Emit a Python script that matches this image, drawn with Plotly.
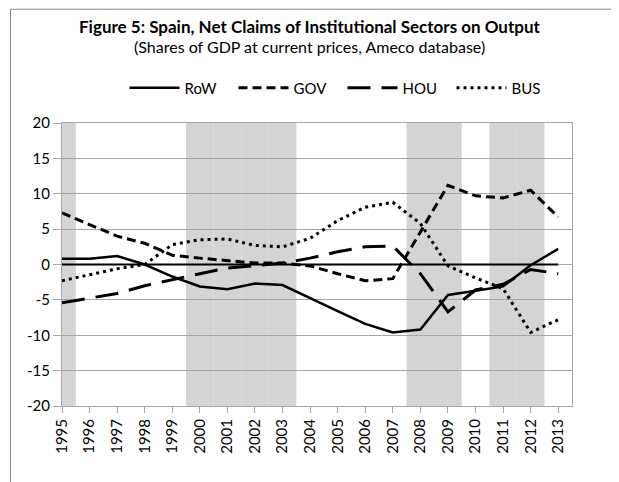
import plotly.graph_objects as go

years = list(range(1995, 2014))
row = [0.8, 0.8, 1.2, 0.0, -1.7, -3.1, -3.5, -2.7, -2.9, -4.8, -6.6, -8.4, -9.6, -9.2, -4.3, -3.7, -3.1, -0.1, 2.2]
gov = [7.3, 5.6, 4.0, 3.0, 1.3, 0.9, 0.5, 0.2, 0.2, -0.2, -1.3, -2.3, -2.0, 4.6, 11.2, 9.7, 9.4, 10.5, 6.7]
hou = [-5.4, -4.8, -4.1, -3.0, -2.1, -1.3, -0.5, -0.2, 0.2, 0.9, 1.8, 2.5, 2.6, -1.3, -6.7, -3.6, -2.8, -0.7, -1.3]
bus = [-2.3, -1.4, -0.6, 0.0, 2.8, 3.5, 3.6, 2.7, 2.5, 3.7, 6.2, 8.1, 8.8, 5.8, -0.2, -1.9, -3.4, -9.6, -7.8]
zero = [0] * len(years)
y_ticks = [-20, -15, -10, -5, 0, 5, 10, 15, 20]

# grey background columns
shaded_years = [1995, 2000, 2001, 2002, 2003, 2008, 2009, 2011, 2012]

FONT = "Lato"
GRID = "#a6a6a6"

fig = go.Figure()

for yr in shaded_years:
    fig.add_shape(type="rect", xref="x", yref="y", x0=yr - 0.5, x1=yr + 0.5, y0=-20, y1=20,
                  fillcolor="#d4d4d4", line_width=0, layer="below")

fig.add_trace(go.Scatter(x=years, y=zero, mode="lines", showlegend=False, hoverinfo="skip",
                         line=dict(color="black", width=2)))
fig.add_trace(go.Scatter(x=years, y=row, name="RoW", mode="lines", line=dict(color="black", width=2.5)))
fig.add_trace(go.Scatter(x=years, y=gov, name="GOV", mode="lines",
                         line=dict(color="black", width=3, dash="9px,5px")))
fig.add_trace(go.Scatter(x=years, y=hou, name="HOU", mode="lines",
                         line=dict(color="black", width=3, dash="23px,11px")))
fig.add_trace(go.Scatter(x=years, y=bus, name="BUS", mode="lines",
                         line=dict(color="black", width=3, dash="3px,4px")))

# outer chart border
fig.add_shape(type="rect", xref="paper", yref="paper", x0=-0.101, x1=1.3, y0=-0.4, y1=1.402,
              line=dict(color="#868686", width=1), fillcolor="rgba(0,0,0,0)")

fig.add_annotation(text="<b>Figure 5: Spain, Net Claims of Institutional Sectors on Output</b>",
                   xref="paper", yref="paper", x=0.486, y=1.34, yanchor="middle", showarrow=False,
                   font=dict(family=FONT, size=17, color="black"))
fig.add_annotation(text="(Shares of GDP at current prices, Ameco database)",
                   xref="paper", yref="paper", x=0.486, y=1.269, yanchor="middle", showarrow=False,
                   font=dict(family=FONT, size=16, color="black"))

# the page offsets the figure by 8px, so margins are shifted to keep the plot area in place
fig.update_layout(
    width=619, height=482,
    margin=dict(l=54, r=55, t=115, b=84, autoexpand=False),
    paper_bgcolor="white", plot_bgcolor="white",
    font=dict(family=FONT, size=15, color="black"),
    showlegend=True,
    legend=dict(orientation="h", x=0.55, xanchor="center", y=1.124, yanchor="middle",
                font=dict(family=FONT, size=15), itemwidth=50,
                entrywidth=44, entrywidthmode="pixels"),
    xaxis=dict(range=[1995, 2013.5], tickvals=years, ticktext=[str(y) for y in years],
               tickangle=-90, showgrid=False, zeroline=False, showline=True, mirror=True,
               linecolor=GRID, ticks="outside", ticklen=6, tickcolor=GRID),
    yaxis=dict(range=[-20, 20], tickvals=y_ticks, ticktext=[str(v) for v in y_ticks],
               showgrid=True, gridcolor=GRID, zeroline=False,
               showline=True, mirror=True, linecolor=GRID, ticks="outside", ticklen=8,
               tickcolor=GRID),
)

fig.write_html("out.html")
